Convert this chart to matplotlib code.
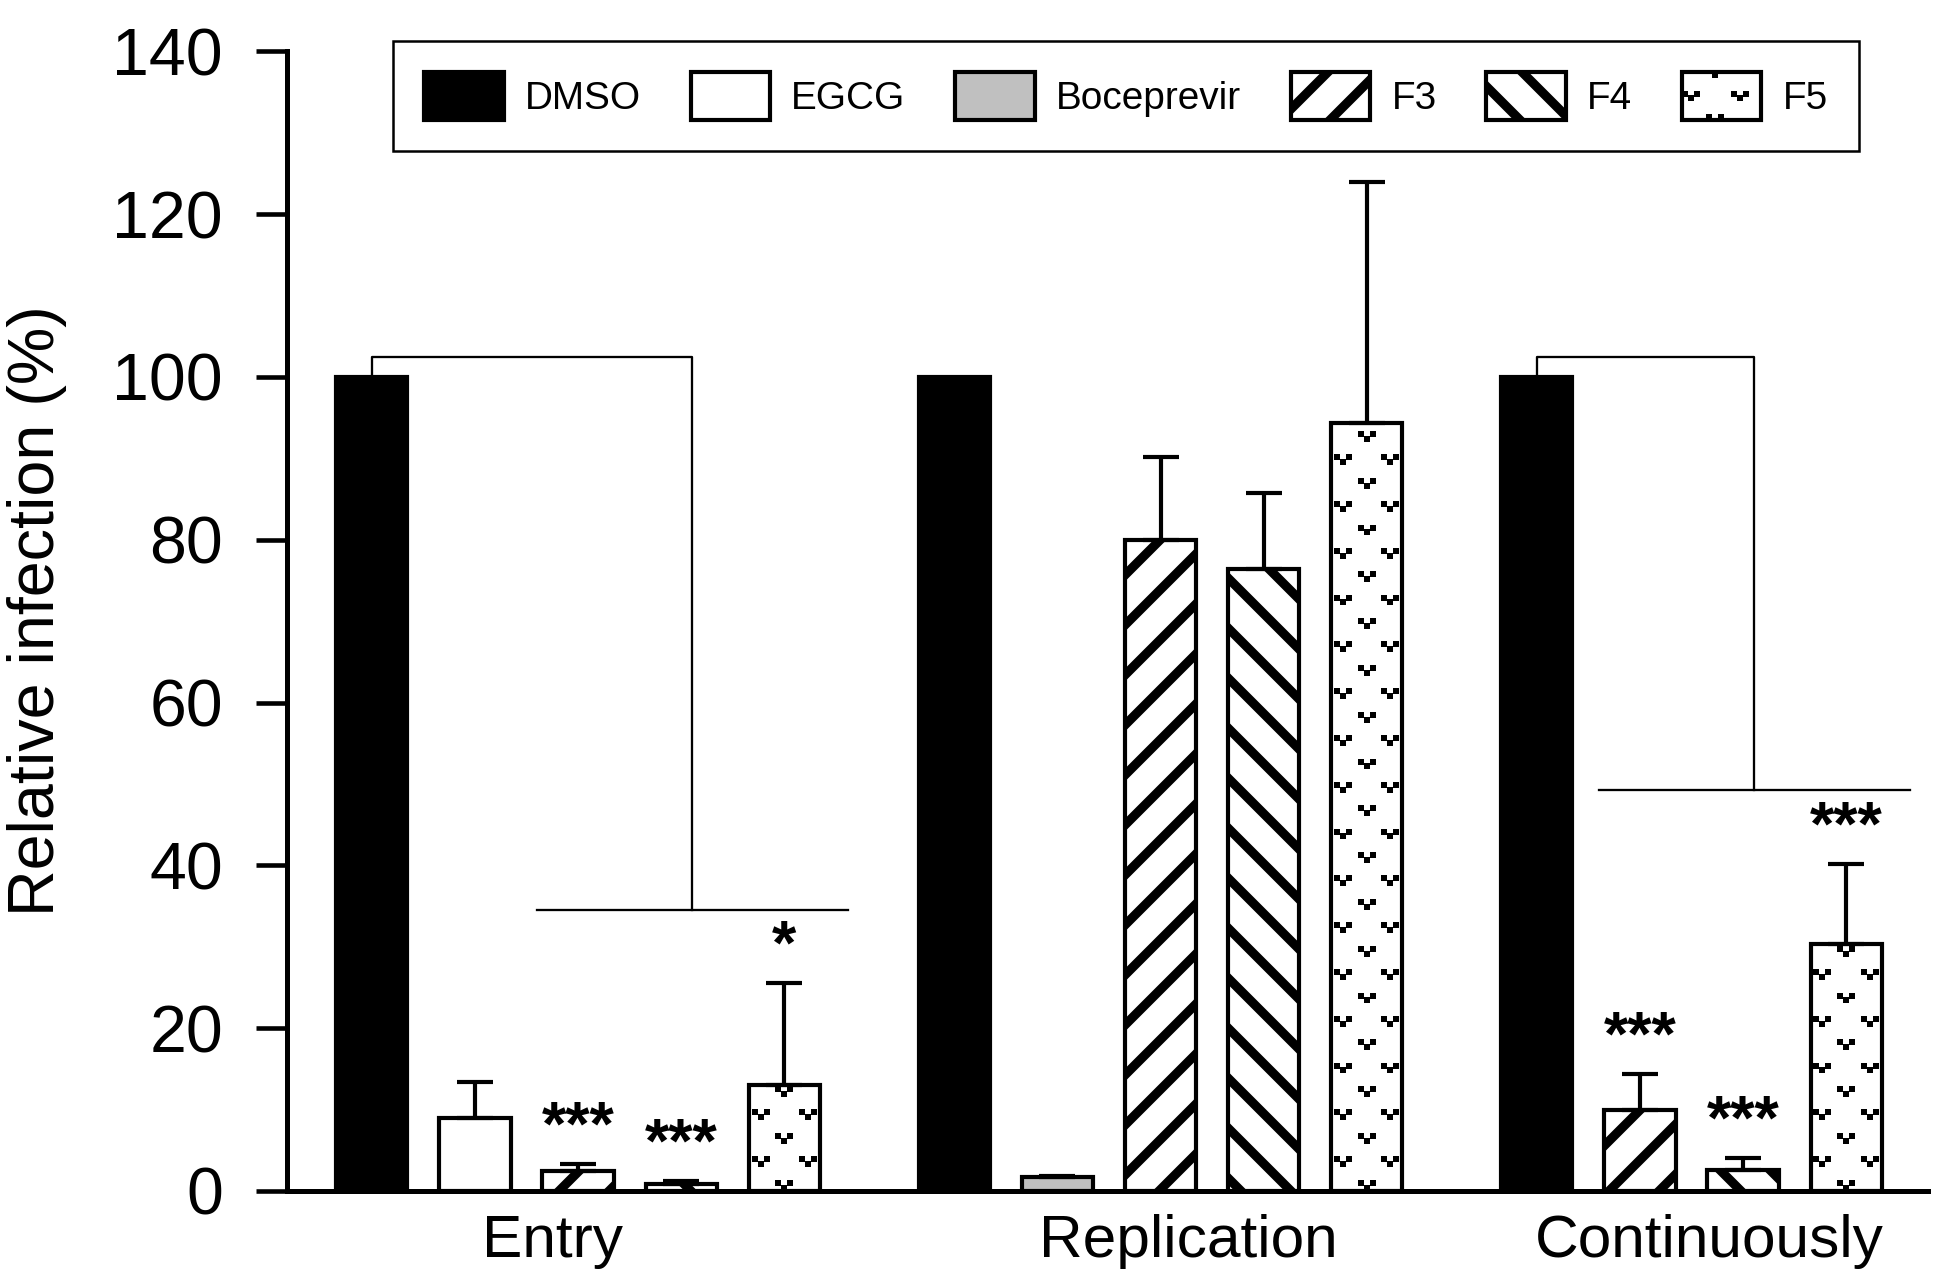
import numpy as np
import matplotlib
matplotlib.use('Agg')
from matplotlib import pyplot as plt
from matplotlib.patches import Patch, Rectangle
from matplotlib.lines import Line2D
from matplotlib.legend_handler import HandlerBase

# data (percent of DMSO)
groups = ['Entry', 'Replication', 'Continuously']
entry_names = ['DMSO', 'EGCG', 'F3', 'F4', 'F5']
entry_vals = [100, 9.0, 2.4, 0.8, 13.0]
entry_err = [0, 4.4, 0.9, 0.4, 12.5]
entry_stars = ['', '', '***', '***', '*']

repl_names = ['DMSO', 'Boceprevir', 'F3', 'F4', 'F5']
repl_vals = [100, 1.7, 80.0, 76.4, 94.3]
repl_err = [0, 0.2, 10.2, 9.4, 29.6]
repl_stars = ['', '', '', '', '']

cont_names = ['DMSO', 'F3', 'F4', 'F5']
cont_vals = [100, 10.0, 2.6, 30.4]
cont_err = [0, 4.4, 1.4, 9.8]
cont_stars = ['', '***', '***', '***']

legend_names = ['DMSO', 'EGCG', 'Boceprevir', 'F3', 'F4', 'F5']
yticks = [0, 20, 40, 60, 80, 100, 120, 140]

plt.rcParams['font.family'] = ['Liberation Sans', 'DejaVu Sans']
plt.rcParams['hatch.linewidth'] = 2.2
plt.rcParams['hatch.color'] = 'black'

styles = {
    'DMSO': dict(facecolor='black'),
    'EGCG': dict(facecolor='white'),
    'Boceprevir': dict(facecolor='#c0c0c0'),
    'F3': dict(facecolor='white', hatch='//'),
    'F4': dict(facecolor='white', hatch='\\\\'),
    'F5': dict(facecolor='white'),
}

DPI = 300
fig = plt.figure(figsize=(1940 / DPI, 1282 / DPI), dpi=DPI)
ax = fig.add_axes([0.148, 0.071, 0.8456, 0.889])

BAR_W = 0.69
GAP = 0.65
EDGE_LW = 1.0
DOT = 1.35


def v_dots(ax, bar, cx, top):
    # little "v" shaped dot pattern inside the F5 bars
    xs, ys = [], []
    for base, cols in [(0.7, [cx]), (3.6, [cx - 0.23, cx + 0.23])]:
        y = base
        while y < top + 3:
            for c in cols:
                xs += [c - 0.058, c + 0.058, c]
                ys += [y + 0.3, y + 0.3, y - 0.3]
            y += 5.75
    ln, = ax.plot(xs, ys, ls='none', marker='s', ms=DOT, mew=0, color='black', zorder=2.5)
    ln.set_clip_path(bar)


sets = [
    (entry_names, entry_vals, entry_err, entry_stars),
    (repl_names, repl_vals, repl_err, repl_stars),
    (cont_names, cont_vals, cont_err, cont_stars),
]

start = 0.0
for gi, (names, vals, errs, stars) in enumerate(sets):
    xs = start + np.arange(len(names))
    for x, name, v, e, s in zip(xs, names, vals, errs, stars):
        bar = ax.bar(x, v, width=BAR_W, edgecolor='black', linewidth=EDGE_LW,
                     zorder=2, **styles[name])[0]
        if name == 'F5':
            v_dots(ax, bar, x, v)
        if e > 0:
            ax.errorbar(x, v, yerr=[[0], [e]], fmt='none', ecolor='black',
                        elinewidth=EDGE_LW, capsize=4.4, capthick=EDGE_LW, zorder=3)
        if s:
            ax.annotate(s, (x, v + e), xytext=(0, 1.6), textcoords='offset points',
                        ha='center', va='bottom', fontsize=15, fontweight='bold')
    # significance bracket from DMSO to the treated bars
    if any(stars):
        starred = [x for x, s in zip(xs, stars) if s]
        low = max(v + e for v, e in zip(vals, errs) if v < 100) + 9
        high = vals[0] + 2.4
        x1, x2 = starred[0] - 0.4, starred[-1] + 0.62
        xm = (x1 + x2) / 2
        ax.plot([xs[0], xs[0], xm, xm], [vals[0], high, high, low],
                color='black', lw=0.55, zorder=1)
        ax.plot([x1, x2], [low, low], color='black', lw=0.55, zorder=1)
    start += len(names) + GAP

ax.set_xlim(-0.822, 15.09)
ax.set_ylim(0, 140)
ax.set_yticks(yticks)
ax.set_xticks([1.75, 7.92, 12.97])
ax.set_xticklabels(groups)

for side in ['top', 'right']:
    ax.spines[side].set_visible(False)
for side in ['left', 'bottom']:
    ax.spines[side].set_linewidth(1.2)

ax.tick_params(axis='y', direction='out', length=7.4, width=1.1, pad=8, labelsize=15.9)
ax.tick_params(axis='x', length=0, pad=5.5, labelsize=14.5)
ax.set_ylabel('Relative infection (%)', fontsize=15.5)
ax.yaxis.set_label_coords(-0.134, 0.509)


class DotsHandler(HandlerBase):
    def create_artists(self, legend, orig_handle, xdescent, ydescent,
                       width, height, fontsize, trans):
        x0, y0 = -xdescent, -ydescent
        rect = Rectangle((x0, y0), width, height, facecolor='white',
                         edgecolor='black', linewidth=EDGE_LW, transform=trans)
        xs, ys = [], []
        for fx, fy in [(0.12, 0.5), (0.73, 0.5), (0.42, 1.0), (0.42, 0.0)]:
            cx, cy = x0 + fx * width, y0 + fy * height
            dx, dy = 0.076 * width, 0.1 * height
            xs += [cx - dx, cx + dx, cx]
            ys += [cy + dy / 2, cy + dy / 2, cy - dy / 2]
        dots = Line2D(xs, ys, ls='none', marker='s', ms=DOT, mew=0,
                      color='black', transform=trans)
        dots.set_clip_path(rect)
        return [rect, dots]


handles = [Patch(edgecolor='black', linewidth=EDGE_LW, **styles[n]) for n in legend_names[:-1]]
f5_handle = Patch(facecolor='white', edgecolor='black')
handles.append(f5_handle)
leg = ax.legend(handles, legend_names, ncol=6, loc='upper left',
                bbox_to_anchor=(0.0646, 1.0088), borderaxespad=0,
                fontsize=9.3, handlelength=2.05, handleheight=1.5,
                handletextpad=0.55, columnspacing=1.28, borderpad=0.8,
                fancybox=False, edgecolor='black', framealpha=1,
                handler_map={f5_handle: DotsHandler()})
leg.get_frame().set_linewidth(0.6)

fig.savefig('out.png', dpi=DPI)
